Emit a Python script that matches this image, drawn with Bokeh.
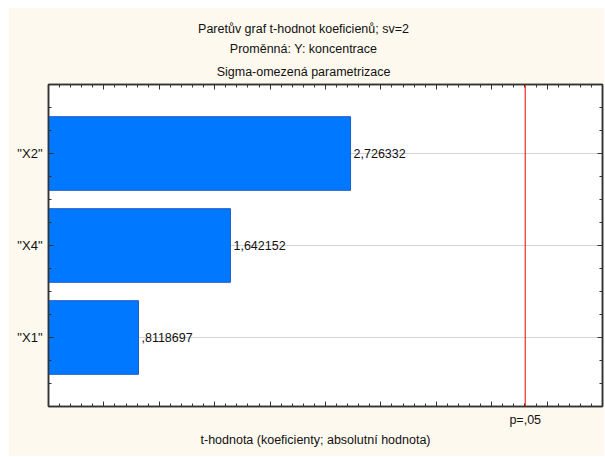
from bokeh.plotting import figure
from bokeh.models import (ColumnDataSource, FixedTicker, LinearAxis, Span, Title, Range1d,
                          CustomJSTickFormatter)
from bokeh.embed import file_html
from bokeh.resources import INLINE

# Pareto chart of t-values of the effects (df = 2)
factors = ['"X2"', '"X4"', '"X1"']
t_values = [2.726332, 1.642152, 0.8118697]
positions = [3, 2, 1]
t_crit = 4.302653          # t(0.975; 2) -> p = .05
crit_label = "p=,05"
title_lines = [
    "Paretův graf t-hodnot koeficienů; sv=2",
    "Proměnná: Y: koncentrace",
    "Sigma-omezená parametrizace",
]
x_label = "t-hodnota (koeficienty; absolutní hodnota)"

FONT = "Liberation Sans"
FS = "12.5px"
CREAM = "#fdf9ee"
FRAME = "#333333"
TEXT = "#111111"


def fmt(v):
    s = f"{v:.7g}"
    if s.startswith("0."):
        s = s[1:]
    return s.replace(".", ",")


src = ColumnDataSource(dict(
    y=positions,
    t=t_values,
    lab=[fmt(v) for v in t_values],
))

p = figure(
    width=596, height=449,
    x_range=Range1d(0, 5), y_range=Range1d(0.25, 3.75),
    output_backend="svg", toolbar_location=None,
    x_axis_location=None, y_axis_location=None,
    min_border_left=40, min_border_right=2,
    min_border_top=77, min_border_bottom=50,
)
p.margin = (7, 1, 1, 8)
p.border_fill_color = CREAM
p.background_fill_color = "white"
p.outline_line_color = FRAME
p.outline_line_width = 1.5
p.title.visible = False

x_major = [i * 0.5 for i in range(11)]
x_minor = [i * 0.1 for i in range(51)]
y_minor = [0.25 + i * 0.25 for i in range(15)]
blank = CustomJSTickFormatter(code="return ''")


def style_axis(ax, show_labels=False, gap=0):
    ax.axis_line_color = FRAME
    ax.axis_line_width = 1.5
    ax.major_tick_in = 5
    ax.major_tick_out = 0
    ax.minor_tick_in = 3
    ax.minor_tick_out = 0
    ax.major_tick_line_color = FRAME
    ax.minor_tick_line_color = FRAME
    if not show_labels:
        ax.formatter = blank
        ax.major_label_standoff = gap
        ax.major_label_text_font_size = "1px"


def heading(text, standoff, shift):
    # extra right padding moves the centred text to the left by shift px
    return Title(text=text, align="center", text_font=FONT,
                 text_font_size=FS, text_font_style="normal",
                 text_color=TEXT, standoff=standoff,
                 padding=dict(left=0, right=2 * shift, top=0, bottom=0))


# x axes (top and bottom) with ticks only
top_ax = LinearAxis(ticker=FixedTicker(ticks=x_major, minor_ticks=x_minor))
style_axis(top_ax, gap=4)
p.add_layout(top_ax, "above")
bot_ax = LinearAxis(ticker=FixedTicker(ticks=x_major, minor_ticks=x_minor))
style_axis(bot_ax)
p.add_layout(bot_ax, "below")

# titles, stacked from the frame outward
p.add_layout(heading(title_lines[2], 11, 22), "above")
p.add_layout(heading(title_lines[1], 3, 22), "above")
p.add_layout(heading(title_lines[0], 5, 22), "above")

# critical-value label
crit_ax = LinearAxis(ticker=FixedTicker(ticks=[t_crit]),
                     major_label_overrides={t_crit: crit_label})
crit_ax.axis_line_color = None
crit_ax.major_tick_line_color = None
crit_ax.major_tick_in = 0
crit_ax.major_tick_out = 0
crit_ax.major_label_standoff = 6
crit_ax.major_label_text_font = FONT
crit_ax.major_label_text_font_size = FS
crit_ax.major_label_text_color = TEXT
p.add_layout(crit_ax, "below")

# empty spacer band between the critical label and the axis title
gap_ax = LinearAxis(ticker=FixedTicker(ticks=x_major), formatter=blank)
gap_ax.axis_line_color = None
gap_ax.major_tick_line_color = None
gap_ax.minor_tick_line_color = None
gap_ax.major_tick_in = 0
gap_ax.major_tick_out = 0
gap_ax.major_label_standoff = 5
gap_ax.major_label_text_font_size = "1px"
p.add_layout(gap_ax, "below")

# x-axis title
p.add_layout(heading(x_label, 2, 10), "below")

# y axes: factor names on the left, ticks only on the right
yl = LinearAxis(ticker=FixedTicker(ticks=positions, minor_ticks=y_minor),
                major_label_overrides={v: f for v, f in zip(positions, factors)})
style_axis(yl, show_labels=True)
yl.major_label_text_font = FONT
yl.major_label_text_font_size = "13px"
yl.major_label_text_color = TEXT
yl.major_label_standoff = 6
p.add_layout(yl, "left")

yr = LinearAxis(ticker=FixedTicker(ticks=positions, minor_ticks=y_minor))
style_axis(yr)
p.add_layout(yr, "right")

p.ygrid.ticker = FixedTicker(ticks=positions)
p.ygrid.grid_line_color = "#d4d4d4"
p.xgrid.visible = False

p.hbar(y="y", left=0, right="t", height=0.8, source=src,
       fill_color="#0078ff", line_color="#1a5cc8", line_width=1)

p.text(x="t", y="y", text="lab", source=src, x_offset=3,
       text_font={"value": FONT}, text_font_size=FS,
       text_baseline="middle", text_align="left", text_color=TEXT)

p.add_layout(Span(location=t_crit, dimension="height",
                  line_color="#ff0000", line_width=1))

open("out.html", "w").write(file_html(p, INLINE))
